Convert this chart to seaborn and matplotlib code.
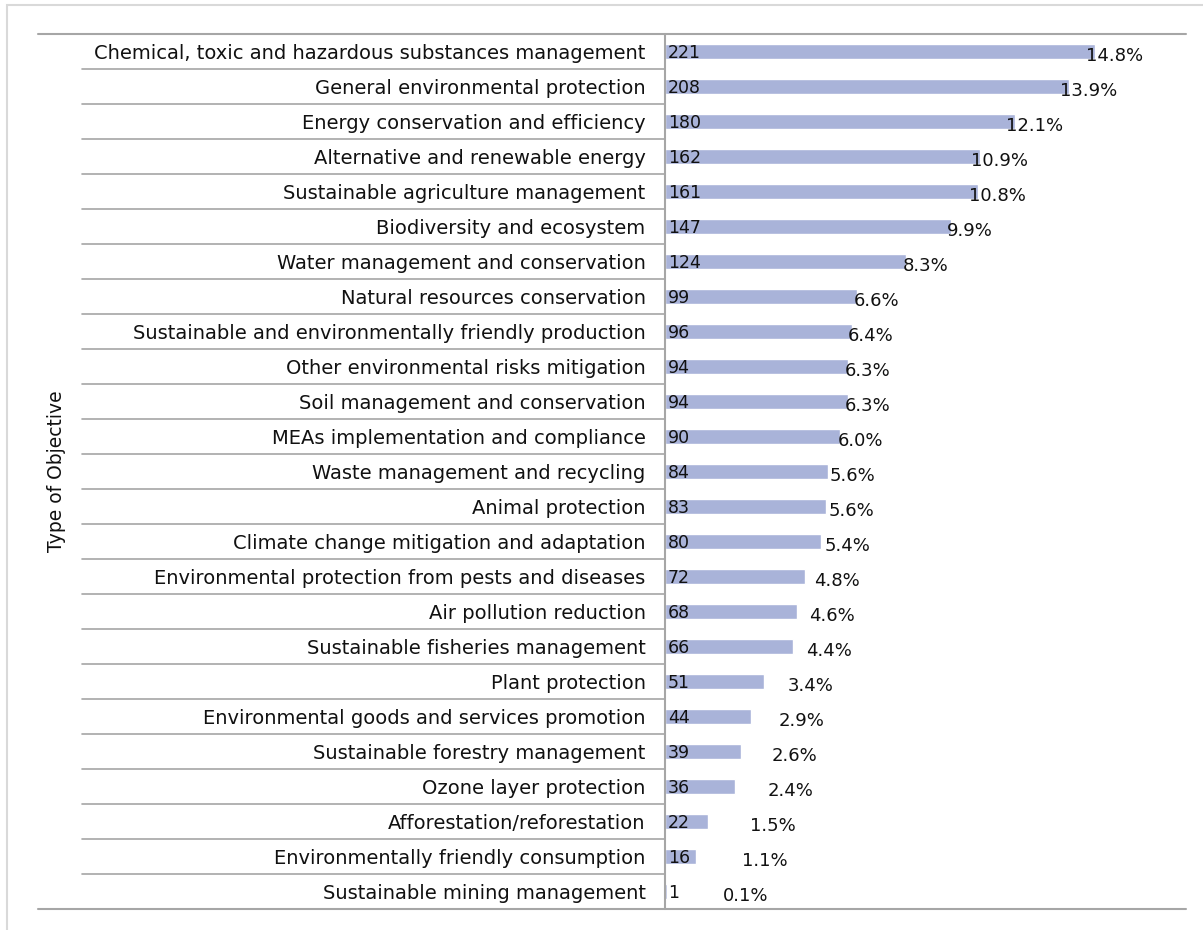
import matplotlib
matplotlib.use("Agg")
import matplotlib.pyplot as plt
import matplotlib.transforms as mtransforms
from matplotlib.lines import Line2D
from matplotlib.patches import Rectangle
import seaborn as sns
import pandas as pd

# dados
objetivos = [
    "Chemical, toxic and hazardous substances management",
    "General environmental protection",
    "Energy conservation and efficiency",
    "Alternative and renewable energy",
    "Sustainable agriculture management",
    "Biodiversity and ecosystem",
    "Water management and conservation",
    "Natural resources conservation",
    "Sustainable and environmentally friendly production",
    "Other environmental risks mitigation",
    "Soil management and conservation",
    "MEAs implementation and compliance",
    "Waste management and recycling",
    "Animal protection",
    "Climate change mitigation and adaptation",
    "Environmental protection from pests and diseases",
    "Air pollution reduction",
    "Sustainable fisheries management",
    "Plant protection",
    "Environmental goods and services promotion",
    "Sustainable forestry management",
    "Ozone layer protection",
    "Afforestation/reforestation",
    "Environmentally friendly consumption",
    "Sustainable mining management",
]
contagens = [221, 208, 180, 162, 161, 147, 124, 99, 96, 94, 94, 90, 84, 83, 80,
             72, 68, 66, 51, 44, 39, 36, 22, 16, 1]
percentuais = ["14.8%", "13.9%", "12.1%", "10.9%", "10.8%", "9.9%", "8.3%", "6.6%",
               "6.4%", "6.3%", "6.3%", "6.0%", "5.6%", "5.6%", "5.4%", "4.8%",
               "4.6%", "4.4%", "3.4%", "2.9%", "2.6%", "2.4%", "1.5%", "1.1%", "0.1%"]

tabela = pd.DataFrame({"Objetivo": objetivos, "Total": contagens})

sns.set_style("white")
plt.rcParams["font.family"] = ["DejaVu Sans"]

W, H = 1203, 930
fig = plt.figure(figsize=(W / 100, H / 100), dpi=100)
ax = fig.add_axes([665 / W, 1 - 909 / H, (1186 - 665) / W, (909 - 34) / H])

cor_barra = "#a9b3d9"
sns.barplot(data=tabela, x="Total", y="Objetivo", orient="h", color=cor_barra,
            width=0.42, saturation=1, ax=ax)

ax.set_xlim(0, 268)
ax.set_ylim(len(objetivos) - 0.5, -0.5)
ax.set_xticks([])
ax.set_xlabel("")
ax.set_ylabel("")
for s in ax.spines.values():
    s.set_visible(False)
ax.tick_params(axis="y", length=0, pad=14, labelsize=14, labelcolor="#111111")

# rotulos das barras
for i, (n, p) in enumerate(zip(contagens, percentuais)):
    ax.text(1.5, i + 0.05, str(n), ha="left", va="center", fontsize=12.5, color="#111111")
    xp = max(n + 10, 41 + n * 0.66)
    ax.text(xp, i + 0.12, p, ha="center", va="center", fontsize=13, color="#111111")

# linhas da tabela
cinza = "#a6a6a6"
fx = lambda px: px / W
fy = lambda py: 1 - py / H
mistura = mtransforms.blended_transform_factory(fig.transFigure, ax.transData)
for i in range(1, len(objetivos)):
    fig.add_artist(Line2D([fx(82), fx(665)], [i - 0.5, i - 0.5], transform=mistura,
                          color=cinza, lw=1.2))
fig.add_artist(Line2D([fx(38), fx(1186)], [fy(34), fy(34)], color=cinza, lw=1.5))
fig.add_artist(Line2D([fx(38), fx(1186)], [fy(909), fy(909)], color=cinza, lw=1.5))
fig.add_artist(Line2D([fx(665), fx(665)], [fy(34), fy(909)], color=cinza, lw=1.5))

# borda de fora
fig.add_artist(Rectangle((fx(7), -0.1), 1.2, fy(5) + 0.1, transform=fig.transFigure,
                         fill=False, edgecolor="#d9d9d9", lw=1.5))

fig.text(fx(57), fy(471), "Type of Objective", rotation=90, ha="center", va="center",
         fontsize=13.5, color="#111111")

fig.savefig("out.png", dpi=100)
